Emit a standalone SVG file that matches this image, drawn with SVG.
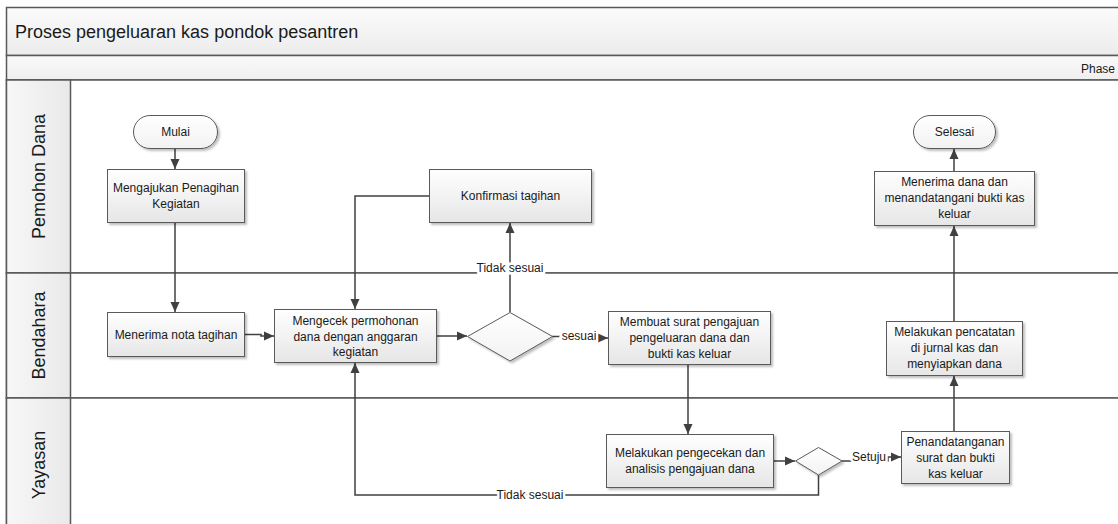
<svg xmlns="http://www.w3.org/2000/svg" width="1118" height="524" viewBox="0 0 1118 524">
<style>
.lane{stroke:#595959;stroke-width:1.5}
.box{fill:url(#gBox);stroke:#5a5a5a;stroke-width:1;filter:url(#sh)}
.dia{fill:url(#gDia);stroke:#5a5a5a;stroke-width:1;filter:url(#sh)}
.t{font-family:"Liberation Sans",Arial,sans-serif;font-size:12px;fill:#1a1a1a;text-anchor:middle}
.lbl{font-family:"Liberation Sans",Arial,sans-serif;font-size:12px;fill:#1a1a1a;text-anchor:middle;paint-order:stroke;stroke:#fff;stroke-width:5px}
.hdr{font-family:"Liberation Sans",Arial,sans-serif;font-size:18px;fill:#1a1a1a}
.c{fill:none;stroke:#404040;stroke-width:1.5}
</style>
<defs>
<linearGradient id="gBox" x1="0" y1="0" x2="0" y2="1"><stop offset="0" stop-color="#ffffff"/><stop offset="1" stop-color="#e6e6e6"/></linearGradient>
<linearGradient id="gDia" x1="0" y1="0" x2="0" y2="1"><stop offset="0" stop-color="#ffffff"/><stop offset="1" stop-color="#f2f2f2"/></linearGradient>
<linearGradient id="gTitle" x1="0" y1="0" x2="0" y2="1"><stop offset="0" stop-color="#fbfbfb"/><stop offset="1" stop-color="#ececec"/></linearGradient>
<linearGradient id="gPhase" x1="0" y1="0" x2="0" y2="1"><stop offset="0" stop-color="#fafafa"/><stop offset="1" stop-color="#efefef"/></linearGradient>
<linearGradient id="gLane" x1="0" y1="0" x2="1" y2="0"><stop offset="0" stop-color="#f7f7f7"/><stop offset="1" stop-color="#e9e9e9"/></linearGradient>
<filter id="sh" x="-10%" y="-10%" width="130%" height="140%"><feDropShadow dx="2" dy="2" stdDeviation="1.2" flood-color="#000" flood-opacity="0.25"/></filter>
<marker id="ah" viewBox="0 0 10 10" refX="10" refY="5" markerWidth="10" markerHeight="10" markerUnits="userSpaceOnUse" orient="auto"><path d="M0,0.5 L10,5 L0,9.5 z" fill="#404040"/></marker>
</defs>

<g id="pool">
<rect x="6.5" y="7.5" width="1200" height="48" fill="url(#gTitle)" class="lane"/>
<text class="hdr" x="15" y="38">Proses pengeluaran kas pondok pesantren</text>
<rect x="6.5" y="55.5" width="1200" height="24.5" fill="url(#gPhase)" class="lane"/>
<text x="1115" y="73" text-anchor="end" font-family="'Liberation Sans',Arial,sans-serif" font-size="12" fill="#1a1a1a">Phase</text>
</g>

<g id="lanes">
<rect x="6.5" y="80" width="1200" height="193" fill="#fff" class="lane"/>
<rect x="6.5" y="80" width="64" height="193" fill="url(#gLane)" class="lane"/>
<text class="hdr" text-anchor="middle" transform="translate(45,176.5) rotate(-90)">Pemohon Dana</text>
<rect x="6.5" y="273" width="1200" height="125" fill="#fff" class="lane"/>
<rect x="6.5" y="273" width="64" height="125" fill="url(#gLane)" class="lane"/>
<text class="hdr" text-anchor="middle" transform="translate(45,335.5) rotate(-90)">Bendahara</text>
<rect x="6.5" y="398" width="1200" height="134" fill="#fff" class="lane"/>
<rect x="6.5" y="398" width="64" height="134" fill="url(#gLane)" class="lane"/>
<text class="hdr" text-anchor="middle" transform="translate(45,465) rotate(-90)">Yayasan</text>
</g>

<g id="connectors">
<path class="c" d="M175,149 V169" marker-end="url(#ah)"/>
<path class="c" d="M175,223 V312" marker-end="url(#ah)"/>
<path class="c" d="M245,334.5 H261 V336 H274" marker-end="url(#ah)"/>
<path class="c" d="M437,336 H467" marker-end="url(#ah)"/>
<path class="c" d="M510,312 V223" marker-end="url(#ah)"/>
<path class="c" d="M429,196 H355 V309" marker-end="url(#ah)"/>
<path class="c" d="M552,336.5 H597 V338 H608" marker-end="url(#ah)"/>
<path class="c" d="M688,365 V434" marker-end="url(#ah)"/>
<path class="c" d="M773,461 H795" marker-end="url(#ah)"/>
<path class="c" d="M842,461 H888 V457 H901" marker-end="url(#ah)"/>
<path class="c" d="M818.5,475 V495 H355 V363" marker-end="url(#ah)"/>
<path class="c" d="M954,431 V376" marker-end="url(#ah)"/>
<path class="c" d="M954,321 V226" marker-end="url(#ah)"/>
<path class="c" d="M954,171 V149" marker-end="url(#ah)"/>
<text class="lbl" x="510" y="272">Tidak sesuai</text>
<text class="lbl" x="579" y="340">sesuai</text>
<text class="lbl" x="869" y="461">Setuju</text>
<text class="lbl" x="530" y="499">Tidak sesuai</text>
</g>

<g id="mulai">
<rect x="133.5" y="115.5" width="84" height="33" rx="16.5" class="box" style="fill:url(#gDia)"/>
<text class="t" x="175.5" y="136">Mulai</text>
</g>
<g id="mengajukan">
<rect x="107.5" y="169.5" width="137" height="53" class="box"/>
<text class="t" x="176" y="192">Mengajukan Penagihan</text>
<text class="t" x="176" y="208">Kegiatan</text>
</g>
<g id="konfirmasi">
<rect x="429.5" y="169.5" width="162" height="53" class="box"/>
<text class="t" x="510.5" y="200">Konfirmasi tagihan</text>
</g>
<g id="selesai">
<rect x="913.5" y="115.5" width="82" height="33" rx="16.5" class="box" style="fill:url(#gDia)"/>
<text class="t" x="954.5" y="136">Selesai</text>
</g>
<g id="menerima-dana">
<rect x="874.5" y="171.5" width="160" height="54" class="box"/>
<text class="t" x="954.5" y="186">Menerima dana dan</text>
<text class="t" x="954.5" y="202">menandatangani bukti kas</text>
<text class="t" x="954.5" y="218">keluar</text>
</g>
<g id="menerima-nota">
<rect x="107.5" y="312.5" width="137" height="44" class="box"/>
<text class="t" x="176" y="338.5">Menerima nota tagihan</text>
</g>
<g id="mengecek">
<rect x="274.5" y="309.5" width="162" height="53" class="box"/>
<text class="t" x="355.5" y="325">Mengecek permohonan</text>
<text class="t" x="355.5" y="340.5">dana dengan anggaran</text>
<text class="t" x="355.5" y="356">kegiatan</text>
</g>
<g id="keputusan-1">
<polygon points="467.5,336.5 510,312.5 552.5,336.5 510,361" class="dia"/>
</g>
<g id="membuat">
<rect x="608.5" y="311.5" width="162" height="53" class="box"/>
<text class="t" x="689.5" y="326">Membuat surat pengajuan</text>
<text class="t" x="689.5" y="342">pengeluaran dana dan</text>
<text class="t" x="689.5" y="358">bukti kas keluar</text>
</g>
<g id="pencatatan">
<rect x="886.5" y="321.5" width="136" height="54" class="box"/>
<text class="t" x="954.5" y="336">Melakukan pencatatan</text>
<text class="t" x="954.5" y="352">di jurnal kas dan</text>
<text class="t" x="954.5" y="368">menyiapkan dana</text>
</g>
<g id="pengecekan">
<rect x="606.5" y="434.5" width="167" height="53" class="box"/>
<text class="t" x="690" y="457">Melakukan pengecekan dan</text>
<text class="t" x="690" y="473">analisis pengajuan dana</text>
</g>
<g id="keputusan-2">
<polygon points="795.5,461 818.5,447.5 842,461 818.5,475" class="dia"/>
</g>
<g id="penandatanganan">
<rect x="901.5" y="431.5" width="108" height="52" class="box"/>
<text class="t" x="955.5" y="446">Penandatanganan</text>
<text class="t" x="955.5" y="462">surat dan bukti</text>
<text class="t" x="955.5" y="478">kas keluar</text>
</g>
</svg>
